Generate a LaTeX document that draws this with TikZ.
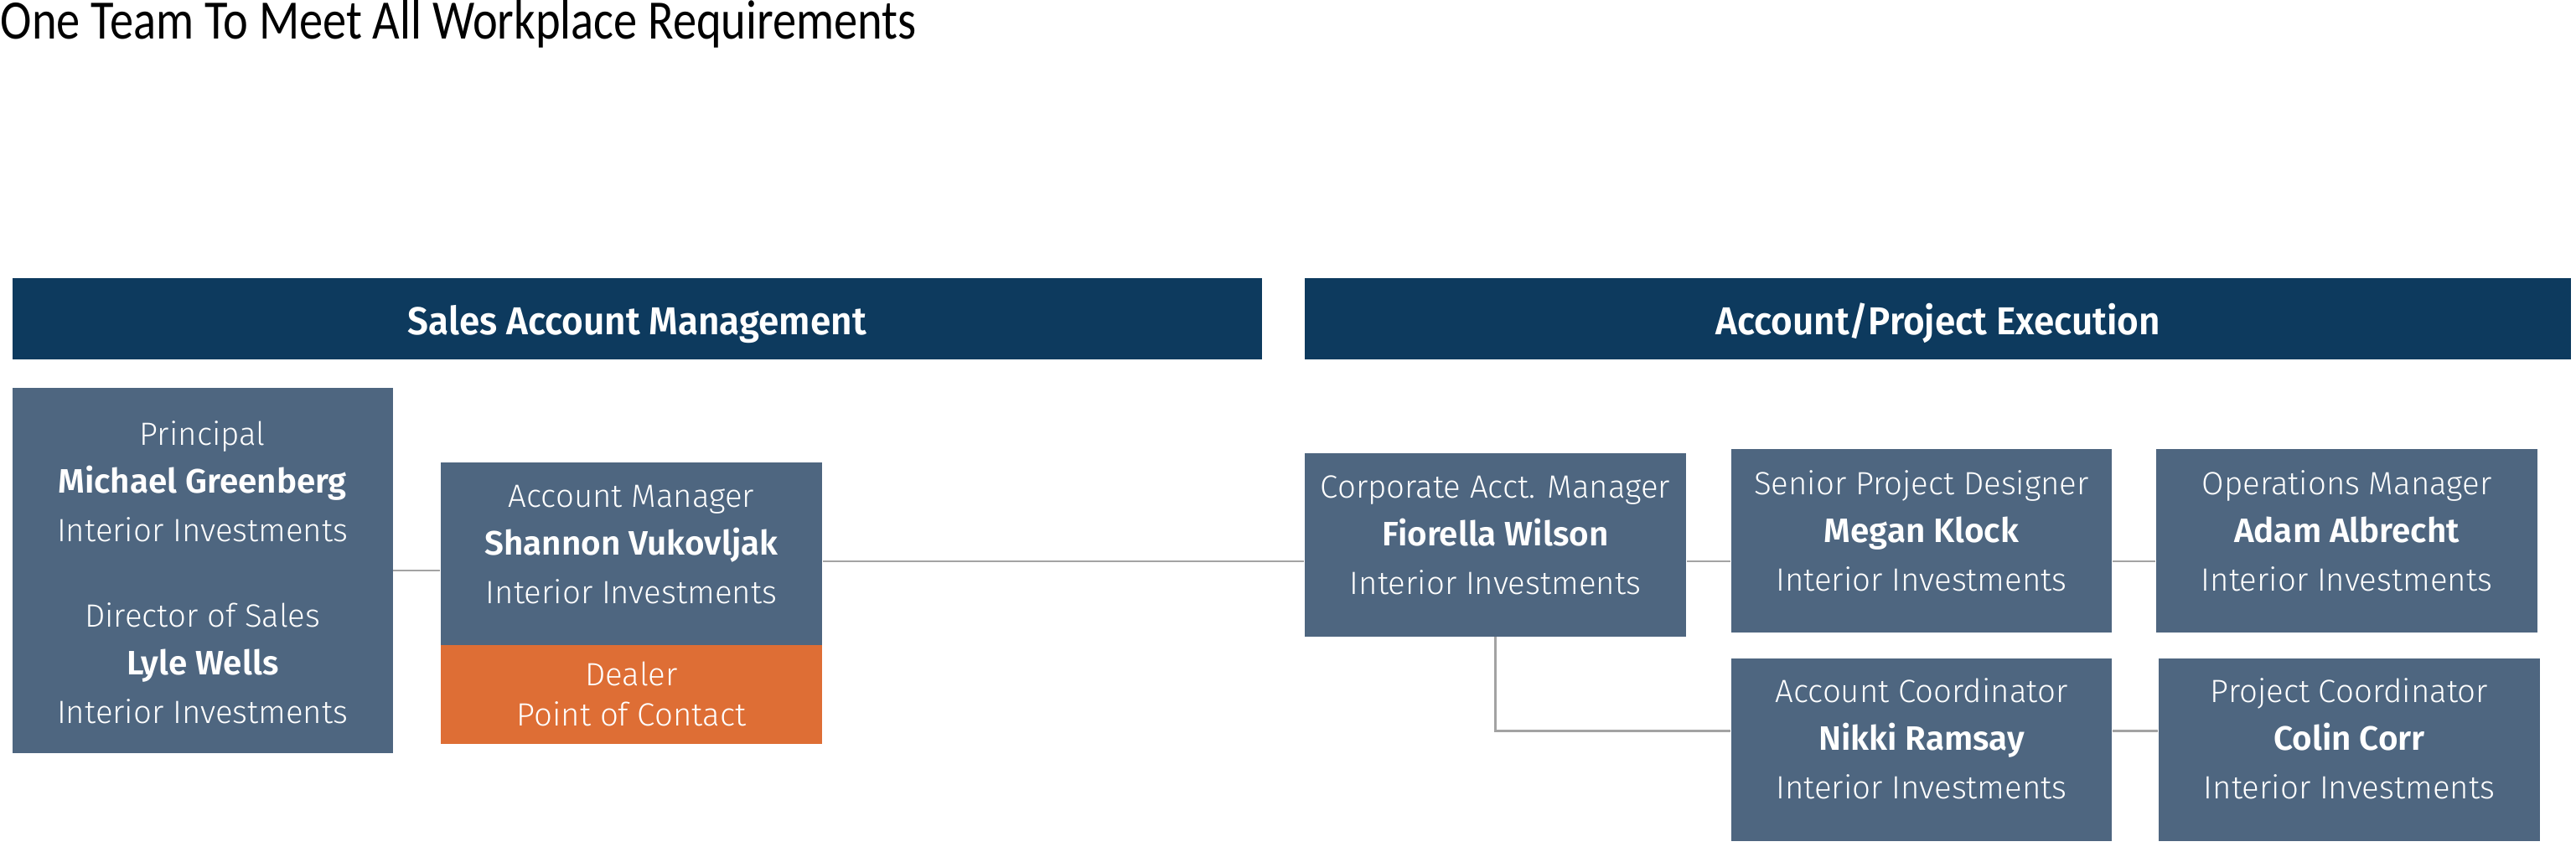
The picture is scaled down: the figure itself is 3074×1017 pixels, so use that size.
\documentclass[tikz,border=0pt]{standalone}
\usepackage{fontspec}
\setmainfont{Fira Sans}[UprightFont={* Light}, BoldFont={* SemiBold}]
\newfontfamily\headfont{Fira Sans SemiBold}[FakeStretch=0.95]
\newfontfamily\titlefont{Carlito}[FakeStretch=0.85]
\usetikzlibrary{fit}
\definecolor{navy}{HTML}{0D3A5E}
\definecolor{slate}{HTML}{4E6680}
\definecolor{dealer}{HTML}{DE6E35}
\definecolor{connc}{HTML}{A3A3A3}
\tikzset{
  box/.style={fill=slate, inner sep=0pt, draw=none},
  dealerbox/.style={fill=dealer, inner sep=0pt, draw=none},
  headbar/.style={fill=navy, inner sep=0pt, draw=none},
  role/.style={anchor=base, inner sep=0pt, text=white, font=\fontsize{9.6}{12}\selectfont},
  pname/.style={role, font=\fontsize{10.1}{12}\selectfont\bfseries},
  headtext/.style={anchor=base, inner sep=0pt, text=white, font=\headfont\fontsize{11.6}{14}\selectfont},
  conn/.style={draw=connc, line width=0.65pt},
}
\newcommand\person[5]{%
  \node[role] (#1r) at (#2,#3) {#4};
  \node[pname] (#1n) at (#2,#3+57.5) {#5};
  \node[role] (#1c) at (#2,#3+115) {Interior Investments};
}
\begin{document}
\begin{tikzpicture}[x=0.25pt,y=-0.25pt]
\useasboundingbox (0,0) rectangle (3074,1017);
% title
\node[anchor=base west, inner sep=0pt, font=\titlefont\fontsize{16.6}{20}\selectfont] (title) at (0,47) {One Team To Meet All Workplace Requirements};
% header bars
\node[headbar, fit={(14.7,332) (1506,428.5)}] (hsales) {};
\node[headbar, fit={(1557,332) (3068,428.5)}] (hexec) {};
\node[headtext] (hsalest) at (760.3,399) {Sales Account Management};
\node[headtext] (hexect) at (2312.5,399) {Account/Project Execution};
% boxes
\node[box, fit={(14.7,463) (468.6,899)}] (lb) {};
\node[box, fit={(526,552) (981,770)}] (am) {};
\node[dealerbox, fit={(526,770) (981,887.5)}] (dl) {};
\node[box, fit={(1557,541) (2012,759.5)}] (corp) {};
\node[box, fit={(2066,536) (2520,755)}] (spd) {};
\node[box, fit={(2573,536) (3028,755)}] (ops) {};
\node[box, fit={(2066,786) (2520,1004)}] (ac) {};
\node[box, fit={(2576,786) (3031,1004)}] (pc) {};
% connector rows
\coordinate (rowA) at (0,670);
\coordinate (rowB) at (0,872.5);
\draw[conn] (lb.east) -- (lb.east -| am.west);
\draw[conn] (am.east |- rowA) -- (corp.west |- rowA);
\draw[conn] (corp.east |- rowA) -- (spd.west |- rowA);
\draw[conn] (spd.east |- rowA) -- (ops.west |- rowA);
\draw[conn] (corp.south) -- (corp.south |- rowB) -- (ac.west |- rowB);
\draw[conn] (ac.east |- rowB) -- (pc.west |- rowB);
% texts
\person{p}{241.7}{531}{Principal}{Michael Greenberg}
\person{d}{241.7}{748}{Director of Sales}{Lyle Wells}
\person{a}{753.5}{605}{Account Manager}{Shannon Vukovljak}
\node[role] (dl1) at (753.5,818) {Dealer};
\node[role] (dl2) at (753.5,866) {Point of Contact};
\person{f}{1784.5}{594}{Corporate Acct. Manager}{Fiorella Wilson}
\person{m}{2293}{590}{Senior Project Designer}{Megan Klock}
\person{o}{2800.5}{590}{Operations Manager}{Adam Albrecht}
\person{n}{2293}{838}{Account Coordinator}{Nikki Ramsay}
\person{c}{2803.5}{838}{Project Coordinator}{Colin Corr}
\end{tikzpicture}
\end{document}
